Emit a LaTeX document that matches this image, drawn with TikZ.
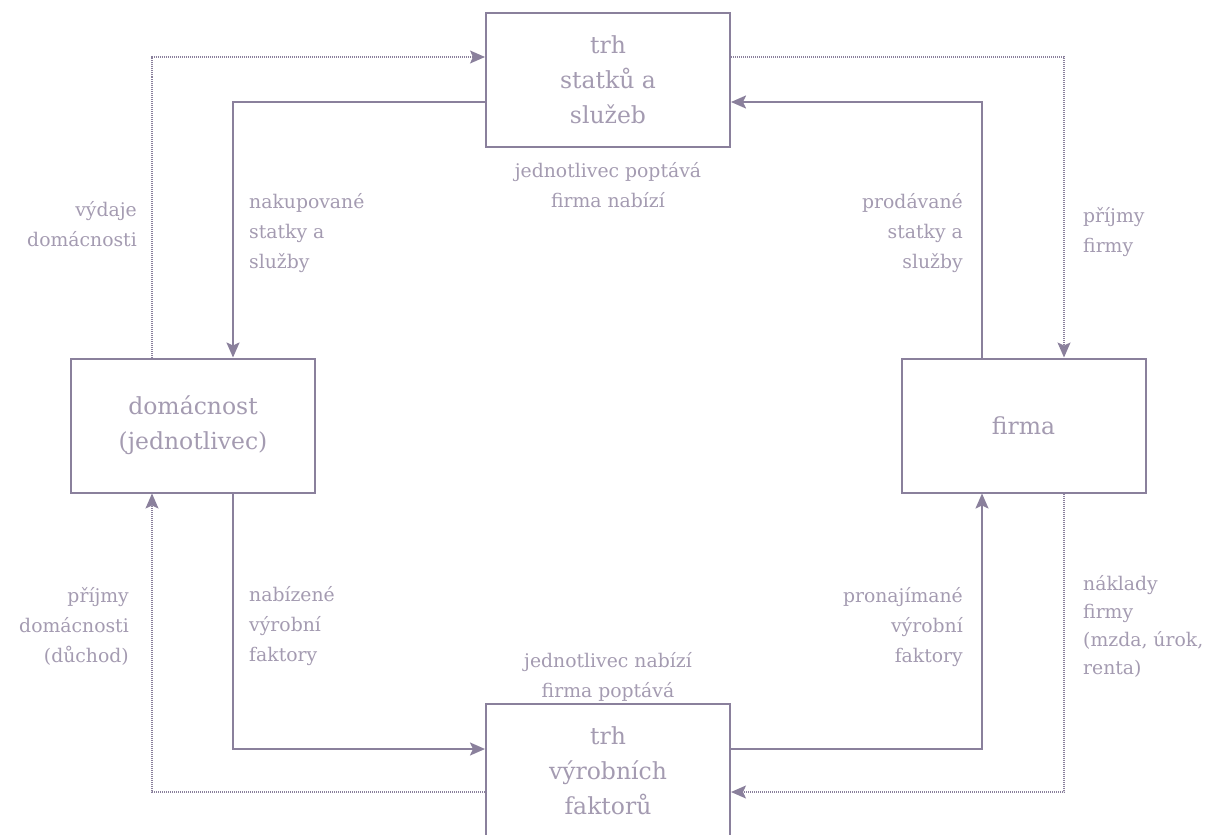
\documentclass[tikz,border=0pt]{standalone}
\usepackage{fontspec}
\setmainfont{DejaVu Serif}
\usetikzlibrary{arrows.meta}
\definecolor{linec}{HTML}{8A809C}
\definecolor{textc}{HTML}{A49BB1}
\tikzset{
  box/.style={draw=linec, line width=2pt, minimum width=244pt, minimum height=134pt,
    inner sep=0pt, align=center, text=textc, font=\fontsize{23.5}{35}\selectfont},
  lbl/.style={inner sep=0pt, text=textc, font=\fontsize{18.8}{30}\selectfont},
  conn/.style={draw=linec, line width=2pt, -{Stealth[length=15pt,width=13pt,inset=3pt]}},
  dconn/.style={draw=linec, line width=1.3pt, dash pattern=on 1pt off 1pt,
    -{Stealth[length=15pt,width=13pt,inset=3pt]}}
}
\begin{document}
\begin{tikzpicture}[x=1pt,y=-1pt]
\useasboundingbox (0,0) rectangle (1213,835);
% boxes
\node[box] (top) at (608,79.5) {trh\\statků a\\služeb};
\node[box] (hh) at (193,425.5) {domácnost\\(jednotlivec)};
\node[box] (firm) at (1023.5,425.5) {firma};
\node[box] (bot) at (608,771) {trh\\výrobních\\faktorů};
% route coordinates
\coordinate (a1) at (233,102);
\coordinate (a2) at (982,102);
\coordinate (a3) at (233,749);
\coordinate (a4) at (982,749);
\coordinate (d1) at (152,57);
\coordinate (d2) at (1064,57);
\coordinate (d3) at (1064,792);
\coordinate (d4) at (152,792);
% solid flows
\draw[conn] (top.west |- a1) -| (hh.north -| a1);
\draw[conn] (firm.north -| a2) |- (top.east |- a2);
\draw[conn] (hh.south -| a3) |- (bot.west |- a3);
\draw[conn] (bot.east |- a4) -| (firm.south -| a4);
% money flows
\draw[dconn] (hh.north -| d1) |- (top.west |- d1);
\draw[dconn] (top.east |- d2) -| (firm.north -| d2);
\draw[dconn] (firm.south -| d3) |- (bot.east |- d3);
\draw[dconn] (bot.west |- d4) -| (hh.south -| d4);
% labels
\node[lbl, align=center] (l1) at (608,185) {jednotlivec poptává\\firma nabízí};
\node[lbl, align=left, anchor=west] (l2) at (249,233) {nakupované\\statky a\\služby};
\node[lbl, align=right, anchor=east] (l3) at (137,224) {výdaje\\domácnosti};
\node[lbl, align=right, anchor=east] (l4) at (963,233) {prodávané\\statky a\\služby};
\node[lbl, align=left, anchor=west] (l5) at (1083,232) {příjmy\\firmy};
\node[lbl, align=left, anchor=west] (l6) at (249,626) {nabízené\\výrobní\\faktory};
\node[lbl, align=right, anchor=east] (l7) at (129,626) {příjmy\\domácnosti\\(důchod)};
\node[lbl, align=right, anchor=east] (l8) at (963,627) {pronajímané\\výrobní\\faktory};
\node[lbl, align=left, anchor=west, font=\fontsize{18.8}{28}\selectfont] (l9) at (1083,626) {náklady\\firmy\\(mzda, úrok,\\renta)};
\node[lbl, align=center] (l10) at (608,677) {jednotlivec nabízí\\firma poptává};
\end{tikzpicture}
\end{document}
